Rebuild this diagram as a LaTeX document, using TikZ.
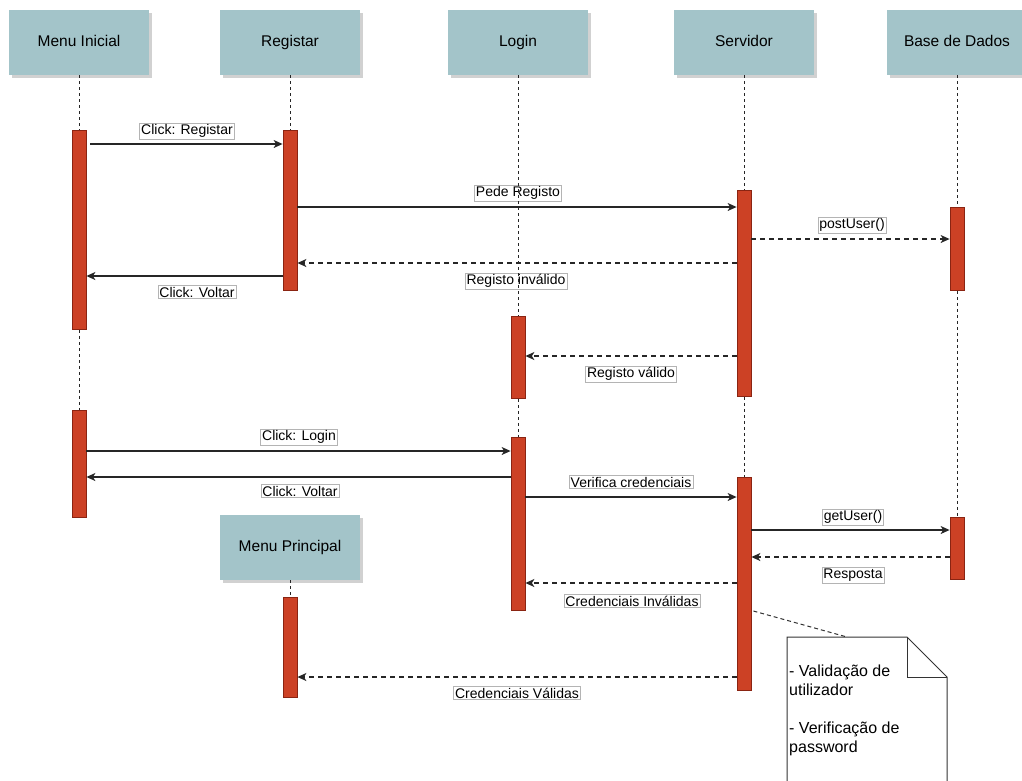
\documentclass[tikz,border=0pt]{standalone}
\usepackage{fontspec}
\setmainfont{Liberation Sans}
\usetikzlibrary{arrows.meta,shadows}
\definecolor{headfill}{HTML}{A3C4C9}
\definecolor{barfill}{HTML}{CC4125}
\definecolor{barline}{HTML}{8A2412}
\definecolor{lblline}{HTML}{B4B4B4}

\begin{document}
\begin{tikzpicture}[x=1pt,y=-1pt,
  header/.style={rectangle, fill=headfill, minimum width=140pt, minimum height=65pt,
    inner sep=0pt, text height=11.5pt, text depth=3.5pt, font=\fontsize{15.5}{18}\selectfont,
    drop shadow={shadow xshift=2.5pt, shadow yshift=-2.5pt, fill=black!18, opacity=1}},
  actbar/.style={rectangle, fill=barfill, draw=barline, line width=0.8pt,
    minimum width=14pt, inner sep=0pt, anchor=north},
  lifeline/.style={draw=black!85, line width=1pt, dash pattern=on 3pt off 3pt},
  call/.style={draw=black!85, line width=1.2pt, -{Stealth[length=9pt,width=8pt,inset=2.5pt]}},
  reply/.style={call, dash pattern=on 5pt off 4pt},
  lbl/.style={fill=white, draw=lblline, line width=0.5pt, inner sep=1.5pt,
    font=\fontsize{14}{16}\selectfont},
  notelink/.style={draw=black!80, line width=1pt, dash pattern=on 4pt off 3pt},
  noteshape/.style={draw=black!80, line width=1pt, fill=white}]

\useasboundingbox (0,0) rectangle (1022,780);

% participants
\node[header] (mi) at (79,42.5)  {Menu Inicial};
\node[header] (rg) at (290,42.5) {Registar};
\node[header] (lg) at (518,42.5) {Login};
\node[header] (sv) at (744,42.5) {Servidor};
\node[header] (db) at (957,42.5) {Base de Dados};
\node[header] (mp) at (290,547.5) {Menu Principal};

% activation bars
\node[actbar, minimum height=199pt] (mi1) at (79,130) {};
\node[actbar, minimum height=160pt] (rg1) at (290,130) {};
\node[actbar, minimum height=206pt] (sv1) at (744,190) {};
\node[actbar, minimum height=83pt]  (db1) at (957,207) {};
\node[actbar, minimum height=82pt]  (lg1) at (518,316) {};
\node[actbar, minimum height=107pt] (mi2) at (79,410) {};
\node[actbar, minimum height=173pt] (lg2) at (518,437) {};
\node[actbar, minimum height=213pt] (sv2) at (744,477) {};
\node[actbar, minimum height=62pt]  (db2) at (957,517) {};
\node[actbar, minimum height=100pt] (mp1) at (290,597) {};

% message labels
\node[lbl] (t1)  at (187,131) {Click: Registar};
\node[lbl] (t2)  at (518,193) {Pede Registo};
\node[lbl] (t3)  at (852,225) {postUser()};
\node[lbl] (t4)  at (516,281) {Registo inválido};
\node[lbl] (t5)  at (197,292) {Click: Voltar};
\node[lbl] (t6)  at (631,374) {Registo válido};
\node[lbl] (t7)  at (299,437) {Click: Login};
\node[lbl] (t8)  at (300,491) {Click: Voltar};
\node[lbl] (t9)  at (631,482) {Verifica credenciais};
\node[lbl] (t10) at (853,517) {getUser()};
\node[lbl] (t11) at (853,575) {Resposta};
\node[lbl] (t12) at (632,601) {Credenciais Inválidas};
\node[lbl] (t13) at (517,693) {Credenciais Válidas};

% lifelines
\draw[lifeline] (mi.south) -- (mi1.north);
\draw[lifeline] (mi1.south) -- (mi2.north);
\draw[lifeline] (rg.south) -- (rg1.north);
\draw[lifeline] (lg.south) -- (lg1.north);
\draw[lifeline] (lg1.south) -- (lg2.north);
\draw[lifeline] (sv.south) -- (sv1.north);
\draw[lifeline] (sv1.south) -- (sv2.north);
\draw[lifeline] (db.south) -- (db1.north);
\draw[lifeline] (db1.south) -- (db2.north);
\draw[lifeline] (mp.south) -- (mp1.north);

% messages
\draw[call]  (mi1.east |- 0,144) ++(4,0) -- (rg1.west |- 0,144);
\draw[call]  (rg1.east |- 0,207) -- (sv1.west |- 0,207);
\draw[reply] (sv1.east |- 0,239) -- (db1.west |- 0,239);
\draw[reply] (sv1.west |- 0,263) -- (rg1.east |- 0,263);
\draw[call]  (rg1.west |- 0,276) -- (mi1.east |- 0,276);
\draw[reply] (sv1.west |- 0,356) -- (lg1.east |- 0,356);
\draw[call]  (mi2.east |- 0,451) -- (lg2.west |- 0,451);
\draw[call]  (lg2.west |- 0,477) -- (mi2.east |- 0,477);
\draw[call]  (lg2.east |- 0,497) -- (sv2.west |- 0,497);
\draw[call]  (sv2.east |- 0,530) -- (db2.west |- 0,530);
\draw[reply] (db2.west |- 0,557) -- (sv2.east |- 0,557);
\draw[reply] (sv2.west |- 0,583) -- (lg2.east |- 0,583);
\draw[reply] (sv2.west |- 0,677) -- (mp1.east |- 0,677);

% note
\draw[noteshape] (787,637) -- (907,637) -- (947,677) -- (947,800) -- (787,800) -- cycle;
\draw[noteshape, fill=none] (907,637) -- (907,677) -- (947,677);
\coordinate (notetop) at (847,637);
\node[anchor=north west, inner sep=0pt, align=left, font=\fontsize{16}{19}\selectfont]
  (notetext) at (789,665) {- Validação de\\utilizador\\[19pt]- Verificação de\\password};
\draw[notelink] (sv2.east |- 0,611) ++(2,0) -- (notetop);

\end{tikzpicture}
\end{document}
